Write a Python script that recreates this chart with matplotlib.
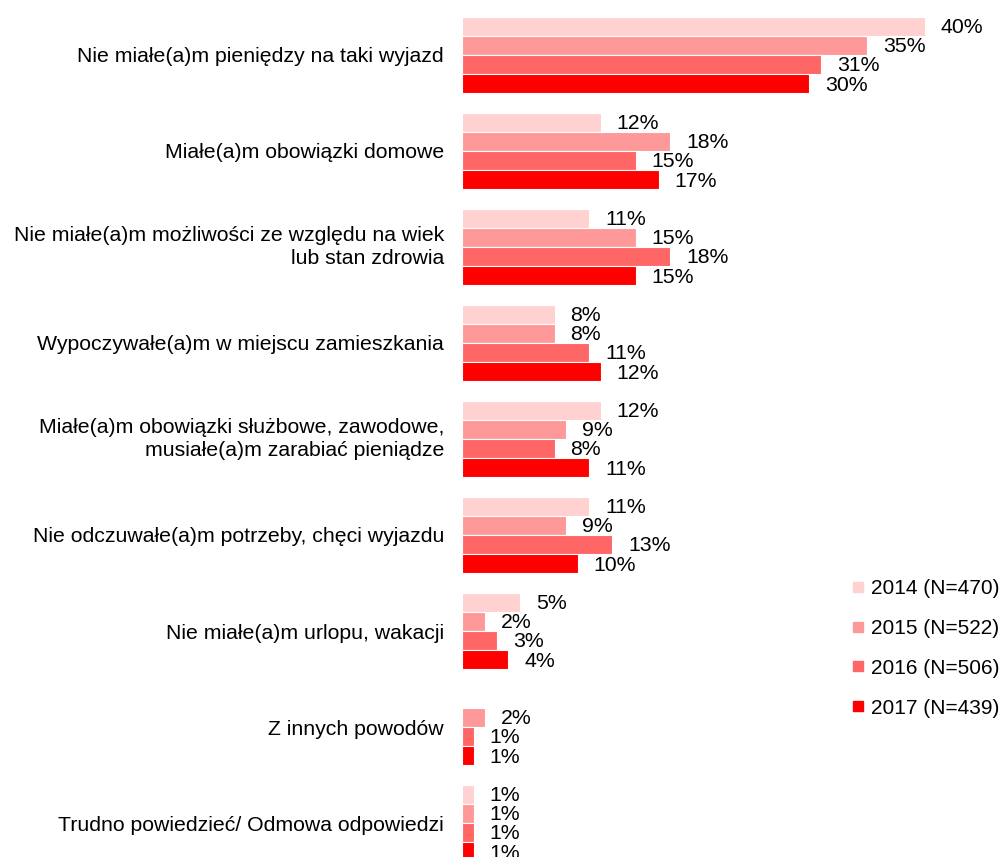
import matplotlib.pyplot as plt
from matplotlib.lines import Line2D
import numpy as np

plt.rcParams['font.family'] = ['Liberation Sans', 'DejaVu Sans']

# reasons for not travelling
categories = [
    "Nie miałe(a)m pieniędzy na taki wyjazd",
    "Miałe(a)m obowiązki domowe",
    "Nie miałe(a)m możliwości ze względu na wiek\nlub stan zdrowia",
    "Wypoczywałe(a)m w miejscu zamieszkania",
    "Miałe(a)m obowiązki służbowe, zawodowe,\nmusiałe(a)m zarabiać pieniądze",
    "Nie odczuwałe(a)m potrzeby, chęci wyjazdu",
    "Nie miałe(a)m urlopu, wakacji",
    "Z innych powodów",
    "Trudno powiedzieć/ Odmowa odpowiedzi",
]
years = ["2014 (N=470)", "2015 (N=522)", "2016 (N=506)", "2017 (N=439)"]
v2014 = [40, 12, 11, 8, 12, 11, 5, None, 1]
v2015 = [35, 18, 15, 8, 9, 9, 2, 2, 1]
v2016 = [31, 15, 18, 11, 8, 13, 3, 1, 1]
v2017 = [30, 17, 15, 12, 11, 10, 4, 1, 1]
colors = ["#FFD1D1", "#FF9999", "#FF6666", "#FF0000"]

W, H = 1003, 857
fig = plt.figure(figsize=(W/100, H/100), dpi=100)
ax = fig.add_axes([462/W, 0, 1 - 462/W, 1])

px_per_pct = 11.575
ax.set_xlim(0, (W - 462)/px_per_pct)
ax.set_ylim((H - 55)/96, -55/96)

bh = 0.2
pos = np.arange(len(categories))
series = [v2014, v2015, v2016, v2017]
for k, vals in enumerate(series):
    off = (k - 1.5)*bh
    for i, v in enumerate(vals):
        if v is None:
            continue
        ax.barh(pos[i] + off, v, height=bh, color=colors[k], edgecolor="white", linewidth=0.8)
        ax.annotate(f"{v}%", (v, pos[i] + off), xytext=(11.5, -1), textcoords="offset points",
                    ha="left", va="center", fontsize=15.3, color="black")

ax.set_yticks(pos)
ax.set_yticklabels(categories, fontsize=15.3, linespacing=1.3, color="black")
for lbl in ax.get_yticklabels():
    if "\n" in lbl.get_text():
        lbl.set_va("center")
ax.tick_params(axis="y", length=0, pad=13)
ax.set_xticks([])
for s in ax.spines.values():
    s.set_visible(False)

handles = [Line2D([], [], marker="s", linestyle="none", markersize=7, color=c) for c in colors]
fig.legend(handles, years, loc="upper left", bbox_to_anchor=(852/W, 1 - 579/H),
           frameon=False, fontsize=15, labelspacing=1.0, handlelength=0.6,
           handletextpad=0.3, borderpad=0, borderaxespad=0)

fig.savefig("out.png", dpi=100)
